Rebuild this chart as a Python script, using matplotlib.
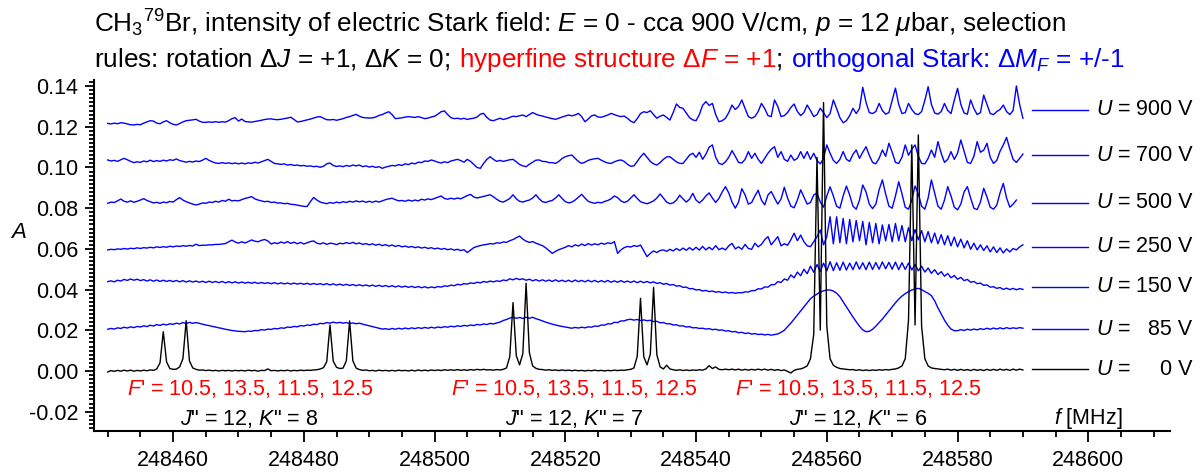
import numpy as np
import matplotlib.pyplot as plt
from matplotlib.ticker import MultipleLocator, FormatStrFormatter

plt.rcParams['font.family'] = ['Liberation Sans', 'DejaVu Sans']
plt.rcParams['mathtext.fontset'] = 'custom'
plt.rcParams['mathtext.rm'] = 'Liberation Sans'
plt.rcParams['mathtext.it'] = 'Liberation Sans:italic'
plt.rcParams['axes.unicode_minus'] = False

#==============================================================================
# spectra, absorbance in units of 1e-3, sampled every 0.5 MHz from 248450 MHz
#==============================================================================

f_start = 248450.0
f_step = 0.5

a_900V = [
    121.7, 121.4, 121.8, 121.5, 122.0, 121.8, 121.4, 121.0, 120.9, 121.2, 121.0, 121.8, 122.4, 123.0, 122.8, 121.8, 121.5, 122.4, 123.0, 122.0,
    121.2, 120.9, 121.6, 122.4, 123.0, 123.2, 123.4, 123.7, 122.8, 122.2, 122.2, 122.4, 122.2, 122.5, 122.2, 122.5, 122.3, 123.0, 124.0, 124.5,
    122.8, 123.8, 122.6, 122.4, 122.3, 122.6, 122.9, 123.2, 123.6, 123.8, 123.9, 123.6, 123.5, 123.7, 124.0, 124.3, 124.7, 123.6, 122.4, 122.6,
    123.0, 123.4, 123.8, 124.3, 124.8, 125.0, 124.2, 123.5, 123.4, 123.6, 123.2, 123.6, 124.0, 124.6, 125.0, 125.6, 126.1, 125.2, 124.6, 124.4,
    124.3, 124.4, 124.8, 125.6, 126.0, 126.8, 127.4, 126.0, 124.0, 124.2, 124.4, 124.8, 125.0, 124.8, 124.6, 125.0, 124.5, 124.0, 124.3, 124.8,
    125.2, 126.2, 127.4, 127.8, 126.0, 124.5, 124.0, 124.2, 123.8, 124.2, 123.6, 124.0, 124.2, 124.8, 126.2, 126.6, 124.6, 123.3, 123.0, 123.6,
    124.2, 123.6, 124.0, 124.6, 125.2, 125.0, 125.4, 125.8, 125.0, 126.0, 127.0, 126.2, 125.6, 125.3, 124.8, 124.4, 124.0, 123.7, 124.2, 124.8,
    125.3, 125.8, 125.4, 125.8, 126.6, 125.0, 122.5, 123.8, 125.4, 125.8, 124.8, 124.7, 125.2, 125.8, 126.6, 126.0, 125.4, 125.0, 125.3, 124.2,
    122.8, 122.0, 124.0, 126.5, 127.4, 127.0, 127.9, 126.0, 124.2, 125.2, 125.8, 124.6, 123.3, 127.0, 131.2, 129.5, 129.1, 126.8, 124.5, 123.4,
    123.0, 126.0, 130.5, 132.4, 130.5, 131.5, 126.0, 122.5, 123.0, 124.2, 127.0, 130.7, 128.5, 130.0, 133.2, 129.0, 125.0, 124.2, 125.0, 127.5,
    131.5, 129.0, 125.5, 125.0, 133.2, 130.0, 125.0, 125.5, 127.0, 129.5, 131.2, 127.5, 125.5, 127.0, 130.7, 128.0, 125.0, 126.0, 129.1, 127.0,
    124.5, 126.5, 133.2, 129.0, 124.5, 122.0, 123.0, 125.5, 129.1, 126.5, 129.0, 139.4, 132.0, 127.0, 126.5, 127.5, 131.5, 128.0, 126.2, 127.0,
    133.0, 139.0, 131.0, 126.5, 127.0, 131.5, 128.5, 126.5, 126.0, 127.5, 133.0, 139.7, 131.0, 126.8, 126.2, 127.5, 131.5, 128.0, 126.5, 133.0,
    138.9, 131.0, 126.8, 126.2, 133.2, 129.0, 126.0, 127.0, 135.6, 131.0, 126.5, 126.0, 127.5, 128.5, 130.7, 127.5, 126.0, 128.0, 140.1, 131.0,
    124.2]

a_700V = [
    103.7, 103.2, 103.5, 103.0, 103.8, 104.5, 103.8, 103.0, 102.4, 102.8, 102.5, 103.2, 102.8, 103.6, 102.9, 103.4, 103.0, 103.6, 103.2, 103.8,
    103.5, 104.2, 103.4, 103.0, 102.6, 103.0, 102.7, 103.2, 102.9, 103.6, 104.5, 103.5, 102.8, 102.2, 102.0, 102.4, 102.0, 102.3, 101.9, 102.2,
    101.8, 102.2, 101.8, 102.3, 102.0, 102.6, 102.2, 102.8, 103.4, 104.0, 103.0, 102.0, 101.8, 101.5, 101.8, 101.2, 101.5, 101.0, 101.2, 100.8,
    101.0, 100.6, 100.8, 100.4, 100.6, 100.1, 100.6, 101.8, 102.2, 101.0, 100.5, 100.8, 100.4, 101.0, 100.6, 101.2, 100.8, 101.2, 100.4, 100.8,
    100.2, 100.6, 100.0, 100.4, 99.6, 100.2, 100.6, 101.0, 100.8, 101.4, 101.0, 101.8, 101.4, 102.2, 101.8, 102.6, 102.4, 103.2, 103.0, 103.7,
    103.2, 102.6, 102.2, 102.8, 102.4, 103.2, 103.6, 104.0, 103.4, 102.6, 104.0, 103.0, 101.5, 100.0, 99.6, 102.0, 104.0, 105.3, 104.0, 103.0,
    103.5, 103.0, 103.4, 103.8, 104.0, 102.8, 101.5, 100.8, 100.4, 101.6, 102.6, 103.6, 103.7, 103.0, 102.9, 102.4, 102.4, 102.0, 103.0, 104.4,
    105.3, 105.8, 106.1, 104.5, 103.0, 102.0, 102.6, 103.5, 104.0, 104.3, 104.5, 103.6, 102.8, 102.2, 102.0, 102.8, 103.4, 103.7, 103.0, 101.6,
    100.6, 100.8, 103.0, 105.2, 107.0, 105.0, 103.0, 101.8, 101.2, 102.4, 104.0, 105.2, 105.3, 104.0, 102.8, 102.0, 102.0, 104.0, 106.1, 107.0,
    105.0, 107.5, 104.0, 106.5, 110.0, 111.1, 105.0, 102.0, 101.5, 102.8, 105.0, 108.3, 105.5, 102.5, 102.2, 104.0, 107.8, 104.5, 107.0, 104.0,
    102.0, 104.5, 107.0, 109.0, 110.2, 105.0, 107.8, 104.0, 103.0, 106.1, 103.5, 104.5, 107.8, 104.5, 107.8, 104.0, 107.0, 103.5, 101.8, 104.5,
    111.1, 107.0, 103.5, 102.0, 104.0, 107.8, 104.0, 103.0, 106.5, 108.6, 104.5, 107.5, 110.2, 106.0, 102.5, 101.8, 104.5, 108.6, 105.5, 111.9,
    107.5, 102.5, 102.0, 105.0, 111.1, 106.0, 109.0, 111.1, 105.5, 102.0, 101.8, 104.5, 108.6, 105.0, 112.7, 107.0, 102.5, 104.0, 107.8, 104.0,
    107.0, 113.5, 108.0, 102.5, 102.0, 105.5, 112.7, 107.5, 108.5, 111.9, 105.0, 102.0, 103.5, 108.0, 111.1, 114.8, 109.0, 104.0, 102.5, 104.5,
    106.6]

a_500V = [
    82.4, 83.0, 82.8, 83.6, 84.5, 83.4, 83.0, 83.6, 82.9, 83.4, 84.0, 84.7, 83.8, 83.2, 82.6, 82.9, 82.4, 83.0, 82.7, 83.3,
    83.0, 84.2, 85.2, 84.0, 83.2, 82.6, 82.0, 81.6, 82.0, 82.6, 82.4, 83.0, 82.8, 83.4, 83.0, 83.8, 83.4, 84.4, 83.6, 83.8,
    83.6, 84.2, 84.8, 85.2, 85.7, 84.6, 84.0, 83.6, 83.2, 83.4, 82.8, 83.0, 82.5, 82.6, 82.2, 82.4, 81.9, 81.8, 81.5, 81.2,
    80.9, 80.8, 83.2, 85.3, 84.0, 83.0, 82.6, 82.2, 82.8, 82.4, 83.0, 82.6, 83.2, 82.8, 83.4, 83.0, 83.6, 83.1, 83.5, 82.9,
    83.4, 82.9, 83.5, 83.0, 83.6, 84.2, 84.6, 84.9, 84.2, 83.6, 83.8, 83.4, 84.0, 83.5, 84.0, 83.6, 84.4, 84.0, 84.6, 84.2,
    84.8, 85.4, 86.0, 84.8, 84.4, 84.9, 84.5, 85.0, 84.6, 85.4, 86.2, 86.8, 85.5, 85.0, 85.4, 85.8, 86.2, 86.6, 85.6, 84.4,
    83.4, 83.0, 83.8, 84.8, 86.6, 84.6, 83.4, 83.0, 83.6, 84.0, 85.0, 86.6, 84.6, 83.2, 82.8, 83.4, 83.8, 85.0, 86.6, 84.8,
    83.2, 82.6, 83.0, 84.0, 85.4, 86.8, 85.0, 83.4, 82.8, 82.4, 82.9, 82.6, 83.3, 83.8, 84.6, 86.0, 85.2, 83.6, 82.8, 83.4,
    85.0, 86.6, 84.8, 83.2, 82.6, 82.2, 82.8, 83.6, 85.0, 87.0, 85.0, 83.0, 82.2, 82.6, 84.0, 86.4, 84.6, 83.0, 84.4, 87.3,
    84.0, 82.6, 84.0, 86.0, 87.5, 85.0, 82.8, 84.8, 88.0, 90.6, 87.5, 83.0, 80.0, 83.0, 89.6, 86.5, 82.0, 82.8, 86.0, 88.8,
    84.0, 81.6, 86.5, 88.2, 85.0, 82.0, 84.5, 90.3, 85.0, 81.0, 80.2, 84.0, 89.0, 85.5, 82.0, 82.8, 86.5, 87.4, 83.0, 80.5,
    86.0, 90.5, 86.0, 81.0, 80.0, 86.0, 90.9, 86.5, 81.0, 79.5, 84.0, 91.4, 88.0, 82.0, 79.8, 82.0, 89.0, 93.9, 87.0, 81.0,
    80.0, 86.0, 93.0, 87.0, 80.5, 79.5, 84.0, 90.9, 87.0, 81.0, 79.5, 85.0, 93.9, 87.5, 81.0, 79.5, 84.0, 90.6, 86.0, 80.5,
    79.2, 82.0, 88.0, 90.6, 85.0, 80.0, 79.3, 83.0, 89.8, 85.5, 80.5, 79.5, 81.5, 87.5, 92.2, 85.0, 80.5, 82.0, 84.0, np.nan,
    np.nan]

a_250V = [
    59.5, 59.8, 59.6, 60.0, 59.8, 60.2, 59.9, 60.3, 60.1, 60.5, 60.2, 60.6, 60.4, 60.8, 60.5, 61.0, 60.7, 61.1, 60.8, 61.3,
    61.0, 61.4, 61.2, 61.6, 61.3, 61.7, 61.4, 62.3, 61.6, 61.8, 61.8, 62.0, 62.0, 62.2, 62.2, 62.4, 62.6, 63.5, 64.3, 63.4,
    62.8, 63.5, 62.9, 63.6, 64.4, 63.8, 63.5, 64.2, 64.6, 63.9, 62.4, 63.0, 62.6, 63.4, 62.8, 63.6, 62.7, 63.3, 62.5, 63.2,
    62.4, 63.0, 63.6, 63.9, 62.8, 62.4, 63.0, 62.2, 62.8, 62.6, 62.1, 62.8, 62.5, 63.1, 62.6, 63.2, 62.5, 62.9, 62.2, 62.6,
    62.0, 62.5, 61.8, 62.3, 61.6, 62.1, 61.4, 61.9, 61.2, 61.7, 61.0, 61.4, 60.8, 61.2, 60.6, 61.0, 60.4, 60.8, 60.2, 60.6,
    60.0, 60.4, 59.8, 60.2, 59.6, 60.0, 59.4, 59.8, 59.2, 59.6, 58.2, 59.4, 60.6, 61.2, 61.6, 62.0, 62.2, 62.6, 62.4, 63.0,
    62.8, 63.4, 63.2, 64.0, 64.6, 65.5, 66.3, 64.8, 63.8, 63.2, 63.6, 62.8, 62.2, 61.6, 60.5, 59.2, 57.8, 58.8, 59.6, 60.2,
    60.8, 61.6, 61.0, 62.0, 61.4, 62.4, 61.6, 62.6, 61.9, 62.5, 62.0, 62.8, 62.3, 63.0, 62.6, 63.6, 57.8, 59.5, 60.6, 61.2,
    60.9, 61.6, 61.2, 61.9, 59.0, 56.2, 57.8, 59.0, 58.2, 59.2, 59.5, 58.8, 59.8, 59.0, 60.2, 59.2, 60.4, 59.3, 60.6, 59.4,
    60.8, 59.4, 61.2, 59.5, 60.8, 59.6, 61.6, 59.6, 60.4, 59.5, 61.5, 62.7, 60.0, 61.0, 59.8, 62.2, 60.2, 59.8, 62.8, 61.0,
    62.2, 64.5, 66.0, 62.0, 64.0, 66.0, 61.5, 62.5, 61.8, 64.5, 67.7, 64.0, 66.8, 63.5, 61.5, 61.1, 63.5, 66.0, 69.3, 62.0,
    66.0, 75.8, 62.5, 75.8, 63.0, 75.0, 62.5, 74.5, 63.5, 74.0, 64.0, 73.5, 62.0, 73.0, 63.0, 72.5, 62.5, 71.8, 64.0, 72.0,
    63.5, 72.5, 64.0, 71.5, 63.5, 70.5, 64.0, 69.5, 64.5, 69.0, 63.5, 68.5, 63.0, 67.8, 62.5, 67.0, 62.0, 66.5, 61.5, 65.8,
    61.0, 64.8, 60.5, 64.0, 59.8, 62.8, 59.5, 62.0, 59.2, 61.5, 58.5, 61.0, 58.2, 60.5, 58.0, 60.0, 58.5, 60.2, 59.5, 61.0,
    62.0]

a_150V = [
    43.9, 44.3, 43.8, 44.6, 44.2, 45.0, 44.5, 45.2, 44.6, 45.1, 44.4, 44.9, 44.2, 44.8, 44.1, 44.7, 44.0, 44.6, 44.0, 44.5,
    43.9, 44.5, 43.8, 44.4, 43.7, 44.3, 43.7, 44.2, 43.6, 44.1, 43.5, 44.1, 43.5, 44.0, 43.4, 44.0, 43.3, 43.9, 43.3, 43.8,
    43.2, 43.7, 43.2, 43.6, 43.1, 43.6, 43.0, 43.5, 43.0, 43.4, 42.9, 43.4, 42.8, 43.3, 42.8, 43.2, 42.7, 43.2, 42.7, 43.1,
    42.6, 43.1, 42.5, 43.0, 42.5, 42.9, 42.4, 42.9, 42.3, 42.8, 42.2, 42.7, 42.1, 42.6, 42.0, 42.5, 41.9, 42.4, 41.8, 42.3,
    41.7, 42.2, 41.6, 42.1, 41.5, 42.0, 41.4, 41.9, 41.3, 41.8, 41.2, 41.7, 41.1, 41.6, 41.0, 41.5, 40.9, 41.4, 40.8, 41.3,
    40.9, 41.5, 41.2, 41.8, 41.6, 42.2, 41.9, 42.6, 42.3, 42.9, 42.7, 43.3, 43.0, 43.6, 43.3, 44.0, 43.6, 44.2, 43.8, 44.3,
    44.0, 44.7, 44.4, 45.3, 44.8, 45.5, 44.9, 45.3, 44.6, 45.1, 44.3, 44.9, 44.2, 44.8, 44.1, 44.7, 44.0, 44.8, 44.0, 44.6,
    43.9, 44.6, 43.8, 44.7, 43.9, 44.5, 43.8, 44.6, 43.8, 44.5, 43.7, 44.4, 43.7, 44.5, 43.6, 44.3, 43.6, 44.4, 43.6, 44.2,
    43.5, 44.2, 43.4, 44.1, 43.4, 44.0, 43.3, 43.8, 43.0, 43.4, 42.6, 43.0, 42.2, 42.5, 41.7, 41.9, 41.1, 41.2, 40.4, 40.5,
    39.8, 40.0, 39.3, 39.6, 39.0, 39.3, 38.7, 39.0, 38.5, 38.8, 38.3, 38.6, 38.2, 38.5, 38.4, 38.9, 38.8, 39.5, 39.5, 40.4,
    40.3, 41.3, 41.2, 42.4, 42.4, 43.9, 43.5, 45.2, 44.6, 47.2, 45.8, 48.6, 46.8, 50.0, 47.8, 51.5, 48.5, 52.3, 49.0, 53.0,
    49.2, 53.7, 49.3, 53.2, 49.5, 53.5, 49.6, 53.0, 49.8, 53.6, 50.0, 53.2, 49.8, 53.5, 49.9, 53.3, 50.0, 53.6, 50.2, 53.4,
    50.0, 53.5, 49.8, 53.2, 49.9, 53.0, 49.6, 52.4, 49.2, 51.5, 48.6, 50.6, 48.0, 49.8, 47.4, 48.8, 46.6, 47.9, 45.8, 46.9,
    45.1, 46.0, 44.4, 45.0, 43.6, 44.0, 42.9, 43.2, 42.1, 42.3, 41.2, 41.4, 40.6, 41.0, 40.1, 40.7, 40.0, 40.6, 39.9, 40.5,
    40.1]

a_85V = [
    20.5, 20.9, 20.6, 21.2, 20.9, 21.5, 21.1, 21.7, 21.3, 21.9, 21.6, 22.2, 21.8, 22.5, 22.1, 22.8, 22.4, 23.0, 22.6, 23.2,
    22.9, 23.5, 23.1, 23.8, 23.3, 23.9, 23.4, 23.8, 23.4, 23.0, 22.6, 22.3, 21.9, 21.6, 21.2, 20.9, 20.5, 20.2, 19.9, 19.7,
    19.5, 19.4, 19.3, 19.6, 19.5, 19.9, 19.8, 20.3, 20.1, 20.6, 20.4, 20.9, 20.7, 21.2, 21.0, 21.6, 21.4, 21.9, 21.7, 22.3,
    22.1, 22.6, 22.4, 23.0, 22.8, 23.4, 23.2, 23.8, 23.5, 24.0, 23.6, 23.9, 23.5, 23.8, 23.3, 23.6, 23.2, 23.5, 23.0, 22.6,
    22.2, 21.8, 21.4, 21.0, 20.6, 20.8, 20.4, 20.9, 20.5, 21.0, 20.6, 21.1, 20.7, 21.2, 20.8, 21.3, 20.9, 21.4, 21.0, 21.5,
    21.1, 21.6, 21.3, 21.8, 21.5, 22.0, 21.7, 22.2, 21.9, 22.4, 22.1, 22.6, 22.3, 22.9, 22.6, 23.1, 22.8, 23.4, 23.1, 23.6,
    24.0, 24.8, 25.3, 26.0, 26.4, 25.9, 26.3, 25.8, 26.4, 25.9, 26.4, 25.7, 25.2, 24.6, 24.0, 23.5, 23.0, 22.6, 22.2, 21.9,
    21.6, 21.3, 21.0, 21.4, 21.1, 21.5, 21.2, 21.7, 21.5, 22.1, 21.9, 22.6, 22.5, 23.2, 23.1, 23.9, 23.8, 24.6, 24.6, 25.2,
    25.4, 25.0, 25.3, 24.8, 25.1, 24.7, 24.9, 24.3, 24.4, 23.7, 23.8, 23.2, 23.2, 22.6, 22.7, 22.1, 22.2, 21.6, 21.8, 21.2,
    21.3, 20.9, 21.0, 20.6, 20.8, 20.3, 20.5, 20.0, 20.2, 19.6, 19.8, 19.2, 19.4, 18.8, 19.0, 18.4, 18.7, 18.1, 18.4, 17.9,
    18.1, 17.7, 18.0, 17.6, 17.9, 18.2, 19.0, 20.0, 21.8, 23.5, 25.5, 27.5, 29.5, 31.5, 33.5, 35.5, 36.8, 37.8, 38.8, 39.4,
    39.8, 39.8, 39.3, 38.2, 36.5, 34.0, 31.5, 29.0, 26.5, 24.2, 22.0, 20.2, 19.3, 19.5, 20.5, 22.0, 23.8, 25.5, 27.5, 29.5,
    31.5, 33.5, 35.3, 36.8, 38.0, 39.0, 39.8, 40.3, 40.6, 40.0, 39.0, 38.2, 37.0, 34.5, 31.0, 28.0, 25.0, 22.5, 20.6, 19.8,
    19.8, 20.3, 19.9, 20.5, 20.1, 20.6, 20.2, 20.8, 20.4, 21.0, 20.5, 21.1, 20.6, 21.2, 20.7, 21.3, 20.8, 21.2, 20.9, 21.3,
    21.0]

a_0V = [
    -0.5, 0.2, -0.2, 0.3, -0.1, 0.4, 0.0, 0.4, -0.1, 0.3, 0.0, 0.4, 0.1, 0.5, 0.3, 1.0, 4.0, 19.3, 4.5, 1.2,
    0.8, 0.9, 2.0, 6.0, 24.7, 5.0, 1.5, 0.8, 0.4, 0.5, 0.2, 0.4, 0.1, 0.3, 0.0, 0.3, 0.1, 0.3, 0.0, 0.3,
    0.1, 0.3, 0.0, 0.4, 0.1, 0.3, -0.1, 0.3, 0.2, 1.0, 0.1, 0.3, 0.0, 0.3, 0.1, 0.4, 0.0, 0.3, 0.1, 0.4,
    0.2, 0.4, 0.3, 0.5, 0.6, 1.0, 1.6, 4.5, 22.6, 4.8, 1.8, 1.2, 1.4, 5.0, 24.6, 5.0, 1.4, 0.7, 0.3, 0.5,
    0.1, 0.3, 0.0, 0.4, 0.1, 0.3, 0.0, 0.3, 0.0, 0.4, 0.1, 0.3, 0.0, 0.4, 0.0, 0.5, 0.1, 0.4, 0.1, 0.5,
    0.2, 0.5, 0.2, 0.6, 0.3, 0.6, 0.3, 0.7, 0.3, 0.6, 0.3, 0.7, 0.4, 0.8, 0.5, 0.8, 0.5, 0.6, 0.4, 0.7,
    0.5, 0.8, 1.5, 7.0, 33.6, 7.5, 3.0, 8.5, 43.1, 9.0, 2.5, 1.3, 0.8, 0.7, 0.4, 0.6, 0.3, 0.5, 0.2, 0.5,
    0.2, 0.4, 0.1, 0.4, 0.1, 0.3, 0.0, 0.3, 0.1, 0.4, 0.1, 0.3, 0.0, 0.3, 0.1, 0.4, 0.2, 0.4, 0.3, 0.6,
    0.8, 1.5, 7.2, 35.7, 7.0, 3.0, 8.2, 41.1, 8.0, 2.0, 1.0, 2.8, 1.0, 0.6, 0.3, 0.6, 0.2, 0.5, 0.2, 0.5,
    0.3, 0.6, 0.4, 1.0, 2.6, 1.2, 2.0, 0.8, 0.6, 0.9, 0.6, 0.9, 0.5, 0.9, 0.4, 0.8, 0.4, 0.8, 0.5, 0.9,
    0.5, 0.9, 0.4, 0.8, 0.3, 0.7, 0.2, 0.5, -0.2, -1.0, 0.3, 0.8, 1.0, 1.6, 2.5, 6.0, 18.0, 105.0, 20.1, 131.9,
    22.0, 6.0, 2.8, 1.8, 1.2, 1.0, 0.8, 0.6, 0.7, 0.3, 0.6, 0.2, 0.5, 0.2, 0.5, 0.3, 0.6, 0.4, 0.7, 0.5,
    0.8, 1.0, 1.5, 2.5, 6.0, 25.0, 111.1, 22.6, 116.0, 22.0, 6.0, 2.5, 1.5, 1.2, 1.0, 0.8, 0.6, 0.9, 0.4, 0.8,
    0.3, 0.8, 0.3, 0.7, 0.2, 0.8, 0.3, 0.7, 0.2, 0.8, 0.3, 0.8, 0.3, 0.9, 0.4, 0.8, 0.3, 0.9, 0.4, 0.9,
    0.5]

voltages = ['900', '700', '500', '250', '150', '85', '0']
legend_levels = [0.1283, 0.1061, 0.0827, 0.0611, 0.0414, 0.0205, 0.0008]

# transition labels: centre frequency, hyperfine text, rotational text
group_f = [248471.7, 248521.3, 248564.8]
group_K = ['8', '7', '6']
hfs_text = "$F$' = 10.5, 13.5, 11.5, 12.5"


def put_line(fig, renderer, x, y, pieces, size):
    """Write coloured pieces of text one after another along one line."""
    for text, color in pieces:
        t = fig.text(x, y, text, color=color, fontsize=size, va='baseline', ha='left')
        bb = t.get_window_extent(renderer=renderer)
        x = bb.x1 / fig.bbox.width


fig = plt.figure(figsize=(12.04, 4.72), dpi=100)
ax = fig.add_axes([94 / 1204, 1 - 431 / 472, 1076 / 1204, 351 / 472])

n = len(a_0V)
freq = f_start + f_step * np.arange(n)

traces = [a_900V, a_700V, a_500V, a_250V, a_150V, a_85V]
for a in traces:
    ax.plot(freq, np.array(a) / 1000, color='#0000ff', lw=1.0)
ax.plot(freq, np.array(a_0V) / 1000, color='black', lw=1.0)

# legend drawn beside the end of each trace
for volt, lev in zip(voltages, legend_levels):
    col = 'black' if volt == '0' else '#0000ff'
    ax.plot([248591.4, 248600.0], [lev, lev], color=col, lw=1.0)
    ax.text(248601.2, lev, '$U$ =', fontsize=15.5, va='center', ha='left')
    ax.text(248615.9, lev, volt + ' V', fontsize=15.5, va='center', ha='right')

for fc, k in zip(group_f, group_K):
    ax.text(fc, -0.0088, hfs_text, color='red', fontsize=15.5, ha='center', va='center')
    ax.text(fc, -0.0236, '$J$" = 12, $K$" = ' + k, color='black', fontsize=15.5,
            ha='center', va='center')
ax.text(248594.8, -0.0236, '$f$ [MHz]', fontsize=15.5, ha='left', va='center')

ax.set_xlim(248447.9, 248612.5)
ax.set_ylim(-0.0295, 0.143)
ax.xaxis.set_major_locator(MultipleLocator(20))
ax.xaxis.set_minor_locator(MultipleLocator(5))
ax.yaxis.set_major_locator(MultipleLocator(0.02))
ax.yaxis.set_minor_locator(MultipleLocator(0.002))
ax.yaxis.set_major_formatter(FormatStrFormatter('%.2f'))
ax.xaxis.set_major_formatter(FormatStrFormatter('%d'))

for side in ['top', 'right']:
    ax.spines[side].set_visible(False)
for side in ['left', 'bottom']:
    ax.spines[side].set_linewidth(1.5)
ax.tick_params(which='both', direction='out', width=1.3, labelsize=15.5)
ax.tick_params(axis='y', which='major', length=6.7, pad=4.5)
ax.tick_params(axis='y', which='minor', length=3.6)
ax.tick_params(axis='x', which='major', length=7.7, pad=6)
ax.tick_params(axis='x', which='minor', length=4.5)

fig.text(18 / 1204, 1 - 232 / 472, '$A$', fontsize=16, ha='center', va='center')

renderer = fig.canvas.get_renderer()
x0 = 94 / 1204
put_line(fig, renderer, x0, 1 - 33 / 472,
         [(r"CH$_3$$^{79}$Br, intensity of electric Stark field: $E$ = 0 - cca 900 V/cm, "
           r"$p$ = 12 $\mu$bar, selection", 'black')], 18.8)
put_line(fig, renderer, x0, 1 - 67 / 472,
         [("rules: rotation Δ$J$ = +1, Δ$K$ = 0", 'black'),
          ("; ", 'black'),
          ("hyperfine structure Δ$F$ = +1", 'red'),
          ("; ", 'black'),
          ("orthogonal Stark: Δ$M_F$ = +/-1", '#0000ff')], 18.8)

fig.savefig('out.png', dpi=100)
